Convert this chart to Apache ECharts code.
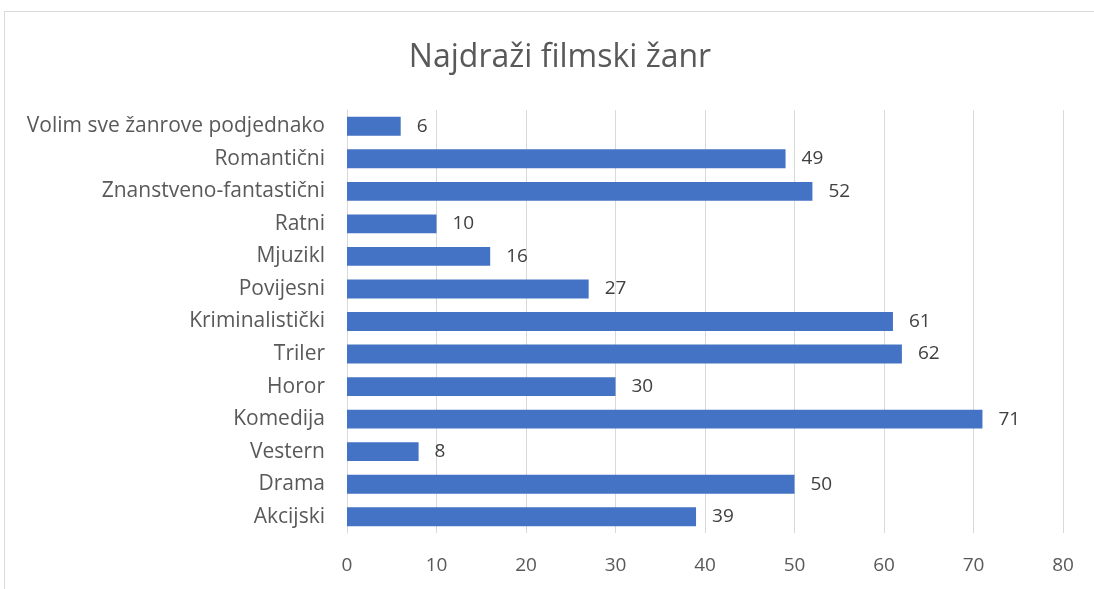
<!DOCTYPE html>
<html>
<head>
<meta charset="utf-8">
<script src="https://cdn.jsdelivr.net/npm/echarts@6/dist/echarts.min.js"></script>
<style>
html,body{margin:0;padding:0;background:#fff;}
#chart{width:1094px;height:589px;}
</style>
</head>
<body>
<div id="chart"></div>
<script>
const categories = ["Volim sve žanrove podjednako","Romantični","Znanstveno-fantastični","Ratni","Mjuzikl","Povijesni","Kriminalistički","Triler","Horor","Komedija","Vestern","Drama","Akcijski"];
const values = [6,49,52,10,16,27,61,62,30,71,8,50,39];
const titleText = "Najdraži filmski žanr";

const chart = echarts.init(document.getElementById('chart'), null, {renderer:'canvas'});
const FONT = "Open Sans";
chart.setOption({
  animation:false,
  backgroundColor:'#fff',
  graphic:[{type:'rect',shape:{x:4.5,y:11.5,width:1300,height:800},style:{fill:'none',stroke:'#d9d9d9',lineWidth:1},silent:true,z:-1}],
  title:{text:titleText,left:555,top:37,textAlign:'center',textStyle:{fontFamily:FONT,fontSize:32,fontWeight:'normal',color:'#595959'}},
  grid:{left:347,right:31,top:110,bottom:56,containLabel:false},
  xAxis:{type:'value',min:0,max:80,interval:10,
    axisLine:{show:false},axisTick:{show:false},
    axisLabel:{margin:23,fontFamily:FONT,fontSize:19,color:'#595959'},
    splitLine:{lineStyle:{color:'#d9d9d9',width:1}}},
  yAxis:{type:'category',data:categories.slice().reverse(),
    axisLine:{show:true,lineStyle:{color:'#d9d9d9'}},axisTick:{show:false},
    axisLabel:{margin:22,fontFamily:FONT,fontSize:21,color:'#595959'}},
  series:[{type:'bar',data:values.slice().reverse(),barWidth:'58%',
    itemStyle:{color:'#4472C4'},
    label:{show:true,position:'right',distance:16,fontFamily:FONT,fontSize:19,color:'#404040'}}]
});
</script>
</body>
</html>
